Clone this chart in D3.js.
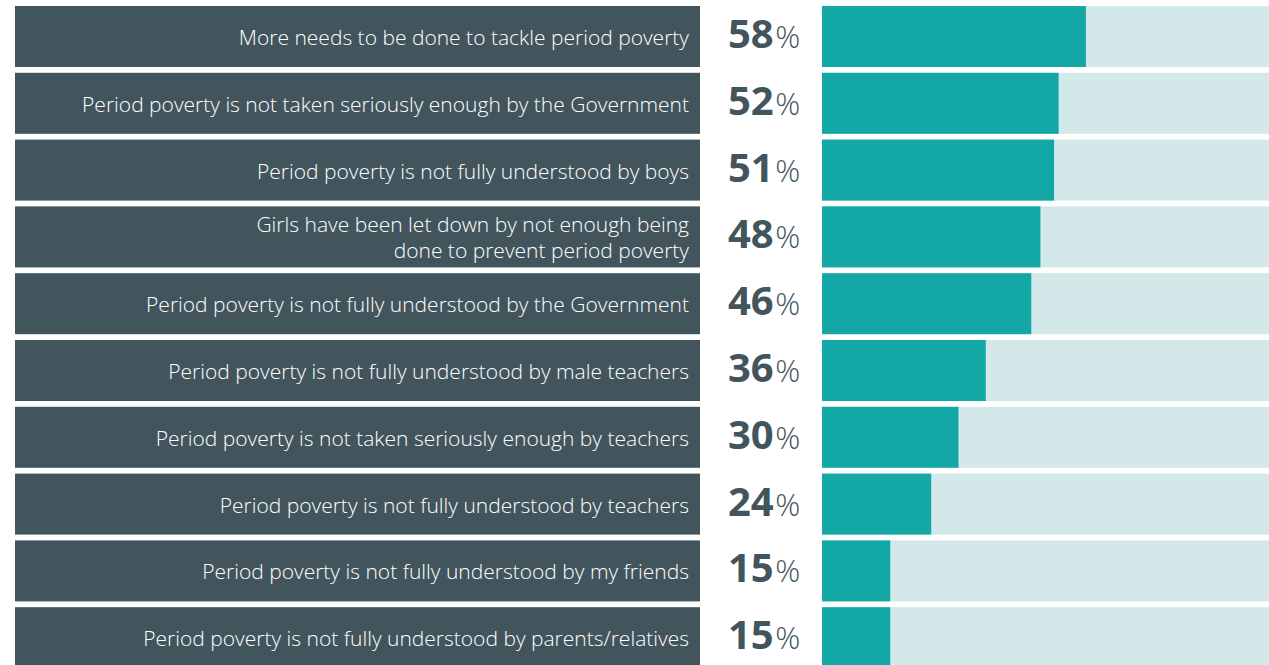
<!DOCTYPE html>
<html><head><meta charset="utf-8">
<script src="https://cdn.jsdelivr.net/npm/d3@7"></script>
<style>body{margin:0;background:#fff;overflow:hidden}svg{display:block}</style>
</head><body>
<svg id="c" width="1269" height="665"></svg>
<script>
const categories = [
  ["More needs to be done to tackle period poverty"],
  ["Period poverty is not taken seriously enough by the Government"],
  ["Period poverty is not fully understood by boys"],
  ["Girls have been let down by not enough being", "done to prevent period poverty"],
  ["Period poverty is not fully understood by the Government"],
  ["Period poverty is not fully understood by male teachers"],
  ["Period poverty is not taken seriously enough by teachers"],
  ["Period poverty is not fully understood by teachers"],
  ["Period poverty is not fully understood by my friends"],
  ["Period poverty is not fully understood by parents/relatives"]
];
const values = [58, 52, 51, 48, 46, 36, 30, 24, 15, 15];

const svg = d3.select("#c");
const y = d3.scaleBand().domain(d3.range(values.length)).range([6, 668.2]).paddingInner(0.0868).paddingOuter(0);
const x = d3.scaleLinear().domain([0, 100]).range([822, 1277]);

const rows = svg.selectAll("g.row").data(values).join("g").attr("class", "row");

rows.append("rect").attr("x", 15).attr("width", 685)
  .attr("y", (d, i) => y(i)).attr("height", y.bandwidth()).attr("fill", "#42555c");

rows.append("rect").attr("x", x(0)).attr("width", x(100) - x(0))
  .attr("y", (d, i) => y(i)).attr("height", y.bandwidth()).attr("fill", "#d3e8e9");

rows.append("rect").attr("x", x(0)).attr("width", d => x(d) - x(0))
  .attr("y", (d, i) => y(i)).attr("height", y.bandwidth()).attr("fill", "#13a8a5");

rows.each(function(d, i) {
  const g = d3.select(this);
  const lines = categories[i];
  const cy = y(i) + y.bandwidth() / 2;
  const t = g.append("text").attr("text-anchor", "end")
    .attr("font-family", "'Open Sans', sans-serif").attr("font-weight", 300)
    .attr("font-size", 21).attr("fill", "#ffffff");
  lines.forEach((ln, k) => {
    t.append("tspan").attr("x", 689)
      .attr("y", cy + 8.5 + (k - (lines.length - 1) / 2) * 26).text(ln);
  });
  const p = g.append("text").attr("x", 728).attr("y", cy + 11.5)
    .attr("font-family", "'Open Sans', sans-serif").attr("fill", "#42555c");
  p.append("tspan").attr("font-weight", 700).attr("font-size", 40).text(d);
  p.append("tspan").attr("font-weight", 300).attr("font-size", 31).attr("dx", 1.5).text("%");
});
</script>
</body></html>
